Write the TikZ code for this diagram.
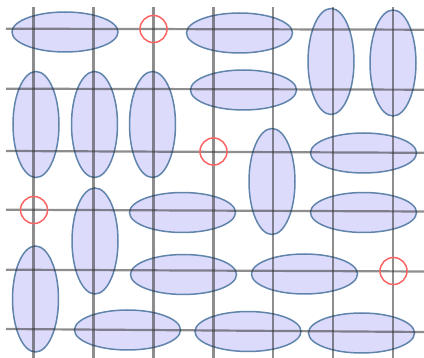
\documentclass[tikz,border=0pt]{standalone}
\usetikzlibrary{shapes.geometric}
\definecolor{efill}{RGB}{221,219,251}
\definecolor{edraw}{RGB}{96,132,172}
\definecolor{gline}{RGB}{50,50,50}
\definecolor{rcirc}{RGB}{252,100,100}
\tikzset{
  hell/.style={ellipse,draw=edraw,fill=efill,line width=1.5pt,inner sep=0pt,minimum width=106pt,minimum height=40pt},
  vell/.style={ellipse,draw=edraw,fill=efill,line width=1.5pt,inner sep=0pt,minimum width=46pt,minimum height=106pt},
  gridln/.style={draw=gline,line width=2.2pt,opacity=0.55},
  rc/.style={circle,draw=rcirc,line width=1.5pt,inner sep=0pt,minimum size=27pt}
}
\begin{document}
\begin{tikzpicture}[x=1pt,y=-1pt]
\useasboundingbox (0,0) rectangle (424,358);
% ellipses
\node[hell] (h1) at (65,32) {};
\node[hell] (h2) at (239.5,33) {};
\node[hell] (h3) at (243.5,90) {};
\node[hell] (h4) at (363.5,153) {};
\node[hell] (h5) at (182.5,212.5) {};
\node[hell] (h6) at (363.5,212.5) {};
\node[hell] (h7) at (183.5,274.5) {};
\node[hell] (h8) at (304.5,274) {};
\node[hell] (h9) at (127.5,330) {};
\node[hell] (h10) at (248,331.5) {};
\node[hell] (h11) at (361.5,333) {};
\node[vell] (v1) at (331,61.5) {};
\node[vell] (v2) at (393,63) {};
\node[vell] (v3) at (36,124.5) {};
\node[vell] (v4) at (94.5,124.5) {};
\node[vell] (v5) at (152.5,124.5) {};
\node[vell] (v6) at (272,181.5) {};
\node[vell] (v7) at (95,241) {};
\node[vell] (v8) at (35.5,299) {};
% grid
\foreach \y/\d in {28.7/1,88.7/1,151/1.8,209.7/1.8,269.7/1.8,329/3} {
  \path[gridln] (6,\y) -- (424,\y+\d);
}
\foreach \x in {33.5,93.5,153.5,213.5,273,333,393} {
  \path[gridln] (\x,7) -- (\x,358);
}
% red circles
\node[rc] (r1) at (153.5,29) {};
\node[rc] (r2) at (213.5,151.5) {};
\node[rc] (r3) at (34,210) {};
\node[rc] (r4) at (393.5,271) {};
\end{tikzpicture}
\end{document}
